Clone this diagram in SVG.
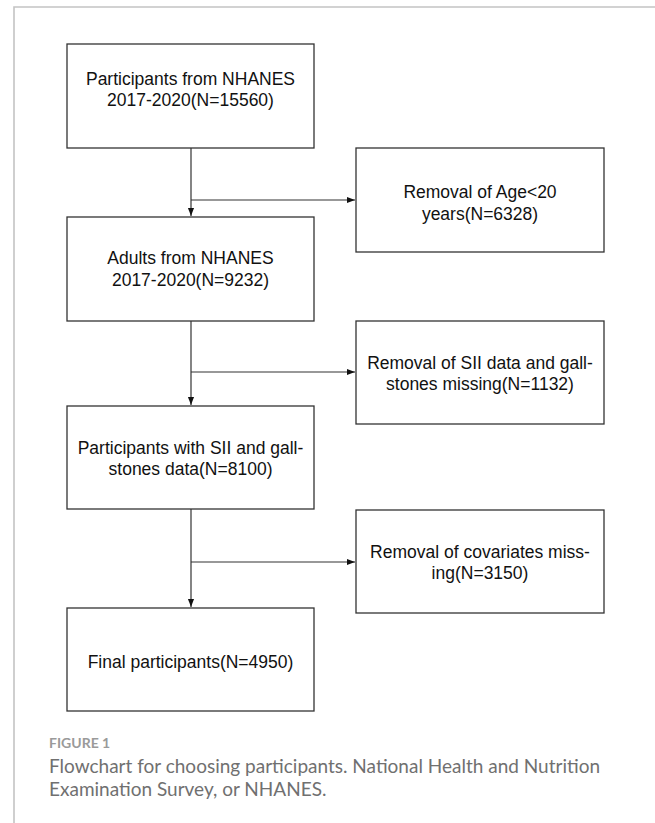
<svg xmlns="http://www.w3.org/2000/svg" width="655" height="823" viewBox="0 0 655 823">
<defs>
<marker id="ah" viewBox="0 0 10 10" refX="10" refY="5" markerWidth="8" markerHeight="8" markerUnits="userSpaceOnUse" orient="auto">
<path d="M0,1.2 L10,5 L0,8.8 z" fill="#111"/>
</marker>
<style>
.box{fill:#fff;stroke:#333;stroke-width:1.3}
.t{font-family:"Liberation Sans",Arial,sans-serif;font-size:17.5px;fill:#111;text-anchor:middle}
.c{fill:none;stroke:#333;stroke-width:1.2}
.frame{fill:none;stroke:#c4c4c4;stroke-width:1.6}
.fig{font-family:Lato,"Open Sans",sans-serif;font-size:14px;font-weight:bold;fill:#9a9a9a}
.cap{font-family:Lato,"Open Sans",sans-serif;font-size:19px;fill:#707070}
</style>
</defs>
<rect width="655" height="823" fill="#fff"/>
<path class="frame" d="M14,823 V7 H655"/>
<g id="connectors">
<path class="c" d="M191,148 V216" marker-end="url(#ah)"/>
<path class="c" d="M191,200 H355" marker-end="url(#ah)"/>
<path class="c" d="M191,321 V405" marker-end="url(#ah)"/>
<path class="c" d="M191,372 H355" marker-end="url(#ah)"/>
<path class="c" d="M191,509 V607" marker-end="url(#ah)"/>
<path class="c" d="M191,562 H355" marker-end="url(#ah)"/>
</g>
<g id="n1"><rect class="box" x="67" y="44" width="247" height="104"/><text class="t" x="190.5" y="85">Participants from NHANES</text><text class="t" x="190.5" y="106">2017-2020(N=15560)</text></g>
<g id="r1"><rect class="box" x="356" y="148" width="248" height="104"/><text class="t" x="480" y="198">Removal of Age&lt;20</text><text class="t" x="480" y="220">years(N=6328)</text></g>
<g id="n2"><rect class="box" x="67" y="217" width="247" height="104"/><text class="t" x="190.5" y="264">Adults from NHANES</text><text class="t" x="190.5" y="286">2017-2020(N=9232)</text></g>
<g id="r2"><rect class="box" x="356" y="321" width="248" height="103"/><text class="t" x="480" y="369">Removal of SII data and gall-</text><text class="t" x="480" y="390">stones missing(N=1132)</text></g>
<g id="n3"><rect class="box" x="67" y="406" width="247" height="103"/><text class="t" x="190.5" y="454">Participants with SII and gall-</text><text class="t" x="190.5" y="475">stones data(N=8100)</text></g>
<g id="r3"><rect class="box" x="356" y="510" width="248" height="103"/><text class="t" x="480" y="558">Removal of covariates miss-</text><text class="t" x="480" y="579">ing(N=3150)</text></g>
<g id="n4"><rect class="box" x="67" y="608" width="247" height="103"/><text class="t" x="190.5" y="668">Final participants(N=4950)</text></g>
<text class="fig" x="49" y="748">FIGURE 1</text>
<text class="cap" x="49" y="773">Flowchart for choosing participants. National Health and Nutrition</text>
<text class="cap" x="49" y="796">Examination Survey, or NHANES.</text>
</svg>
